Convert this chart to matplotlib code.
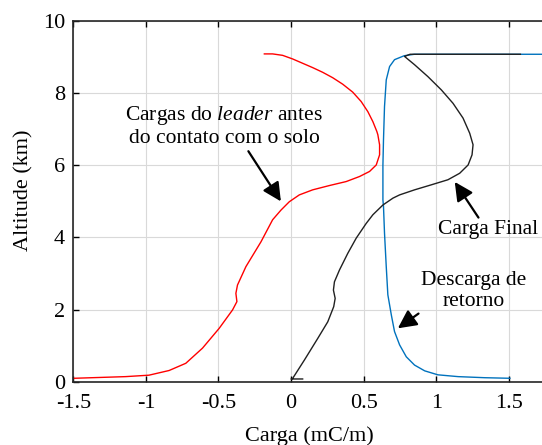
import matplotlib.pyplot as plt

# Fonte serifada (estilo Times) e itálico para o mathtext
plt.rcParams['font.family'] = ['Liberation Serif', 'DejaVu Serif']
plt.rcParams['mathtext.fontset'] = 'custom'
plt.rcParams['mathtext.rm'] = 'Liberation Serif'
plt.rcParams['mathtext.it'] = 'Liberation Serif:italic'

# Cargas do leader antes do contato com o solo (vermelho)
leader_x = [-1.496, -1.14, -0.979, -0.84, -0.725, -0.61, -0.495, -0.403, -0.373, -0.380,
            -0.369, -0.311, -0.207, -0.127, -0.069, -0.012, 0.057, 0.149, 0.265, 0.38,
            0.472, 0.541, 0.587, 0.610, 0.610, 0.598, 0.591, 0.564, 0.529, 0.483,
            0.425, 0.356, 0.287, 0.218, 0.149, 0.080, 0.011, -0.058, -0.127, -0.184]
leader_y = [0.094, 0.14, 0.18, 0.31, 0.51, 0.93, 1.48, 1.99, 2.22, 2.45,
            2.68, 3.19, 3.88, 4.49, 4.76, 4.99, 5.18, 5.32, 5.44, 5.55,
            5.69, 5.83, 6.01, 6.29, 6.57, 6.85, 6.94, 7.21, 7.49, 7.77,
            8.03, 8.25, 8.43, 8.58, 8.71, 8.83, 8.95, 9.05, 9.09, 9.09]

# Carga final (preto)
final_x = [0.08, 0.0, 0.011, 0.092, 0.184, 0.253, 0.294, 0.304, 0.292, 0.299,
           0.334, 0.391, 0.449, 0.518, 0.564, 0.633, 0.702, 0.748, 0.851, 0.967,
           1.081, 1.162, 1.22, 1.247, 1.254, 1.231, 1.185, 1.116, 1.036, 0.943,
           0.851, 0.782, 0.82, 1.58]
final_y = [0.075, 0.075, 0.09, 0.6, 1.2, 1.66, 2.08, 2.31, 2.54, 2.77,
           3.10, 3.56, 3.98, 4.39, 4.63, 4.90, 5.09, 5.18, 5.32, 5.46,
           5.60, 5.78, 6.01, 6.29, 6.57, 6.89, 7.31, 7.72, 8.09, 8.46,
           8.79, 9.02, 9.08, 9.08]

# Descarga de retorno (azul)
retorno_x = [1.508, 1.335, 1.151, 1.012, 0.921, 0.851, 0.794, 0.748, 0.713, 0.691,
             0.667, 0.656, 0.644, 0.637, 0.633, 0.633, 0.637, 0.644, 0.656, 0.679,
             0.713, 0.78, 0.85, 1.2, 1.8]
retorno_y = [0.094, 0.11, 0.14, 0.19, 0.30, 0.46, 0.69, 1.02, 1.39, 1.85,
             2.41, 3.19, 4.12, 4.86, 5.04, 6.0, 6.71, 7.63, 8.37, 8.74,
             8.93, 9.04, 9.08, 9.08, 9.08]

x_ticks = [-1.5, -1, -0.5, 0, 0.5, 1, 1.5]
x_tick_labels = ['-1.5', '-1', '-0.5', '0', '0.5', '1', '1.5']
y_ticks = [0, 2, 4, 6, 8, 10]

fig = plt.figure(figsize=(5.42, 4.45), dpi=100)
ax = fig.add_axes([0.1353, 0.1423, 0.8703, 0.8103])

ax.plot(leader_x, leader_y, color='#ff0000', lw=1.0)
ax.plot(retorno_x, retorno_y, color='#0072bd', lw=1.0)
ax.plot(final_x, final_y, color='#202020', lw=1.0)

ax.set_xlim(-1.5, 1.75)
ax.set_ylim(0, 10)
ax.set_xticks(x_ticks)
ax.set_xticklabels(x_tick_labels)
ax.set_yticks(y_ticks)

ax.grid(True, color='#d9d9d9', lw=0.8)
ax.set_axisbelow(True)
ax.tick_params(direction='in', top=True, length=4, labelsize=16, width=1)
ax.tick_params(axis='x', pad=9)
ax.tick_params(axis='y', pad=6)
for s in ['left', 'top', 'bottom']:
    ax.spines[s].set_linewidth(1.2)
    ax.spines[s].set_color('#262626')
ax.spines['right'].set_visible(False)

ax.set_xlabel('Carga (mC/m)', fontsize=16)
ax.set_ylabel('Altitude (km)', fontsize=16)
ax.xaxis.set_label_coords(0.5, -0.125)
ax.yaxis.set_label_coords(-0.085, 0.53)

seta = dict(arrowstyle='-|>', color='black', lw=1.6, mutation_scale=28, shrinkA=0, shrinkB=0)

ax.annotate('Cargas do $\\mathit{leader}$ antes\ndo contato com o solo',
            xy=(-0.07, 5.0), xytext=(-0.46, 7.08), fontsize=15.5,
            ha='center', va='center', linespacing=1.15, arrowprops=dict(seta, relpos=(0.62, -0.05)))
ax.annotate('Carga Final', xy=(1.128, 5.54), xytext=(1.01, 4.21), fontsize=15.5,
            ha='left', va='center', arrowprops=dict(seta, relpos=(0.42, 1.05)))
ax.annotate('Descarga de\nretorno', xy=(0.736, 1.48), xytext=(1.26, 2.52), fontsize=15.5,
            ha='center', va='center', linespacing=1.15, arrowprops=dict(seta, relpos=(0.25, 0.45)))

fig.savefig('out.png', dpi=100)
